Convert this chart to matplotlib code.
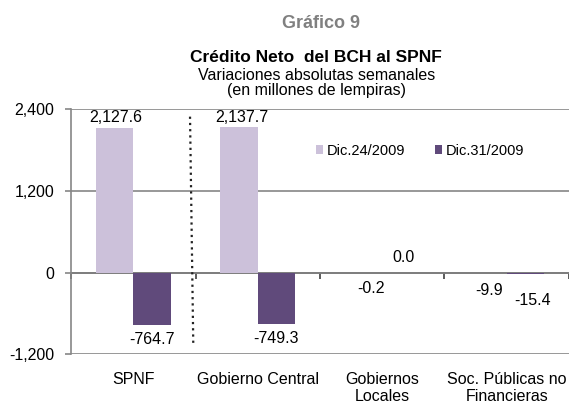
import matplotlib
matplotlib.use("Agg")
import matplotlib.pyplot as plt
import numpy as np

plt.rcParams['font.family'] = ['Liberation Sans', 'DejaVu Sans']

categories = ["SPNF", "Gobierno Central", "Gobiernos\nLocales", "Soc. Públicas no\nFinancieras"]
series_names = ["Dic.24/2009", "Dic.31/2009"]
dic24 = [2127.6, 2137.7, -0.2, -9.9]
dic31 = [-764.7, -749.3, 0.0, -15.4]
label24 = ["2,127.6", "2,137.7", "-0.2", "-9.9"]
label31 = ["-764.7", "-749.3", "0.0", "-15.4"]
yticks = [-1200, 0, 1200, 2400]
ytick_labels = ["-1,200", "0", "1,200", "2,400"]

# label offsets in pixels (dx, dy) relative to bar end -- styling only
off24 = [(1.5, 10), (3, 9.5), (7, -15.5), (1, -17)]
off31 = [(0, -14.5), (0, -14.5), (3, 15), (7, -26.5)]

light = "#CCC1DA"
dark = "#604A7B"
W, H = 569, 404
fig = plt.figure(figsize=(W / 100, H / 100), dpi=100)
ax = fig.add_axes([71 / W, 1 - 354.3 / H, 1 - 71 / W, (354.3 - 109.3) / H])

x = np.arange(len(categories))
bw = 0.30
b1 = ax.bar(x - bw / 2, dic24, bw, color=light, zorder=3, label=series_names[0])
b2 = ax.bar(x + bw / 2, dic31, bw, color=dark, zorder=3, label=series_names[1])

ax.set_xlim(-0.5, len(categories) - 0.5)
ax.set_ylim(-1200, 2400)
ax.set_yticks(yticks)
ax.set_yticklabels(ytick_labels)
ax.yaxis.grid(True, color="#868686", lw=1.2, zorder=0)
ax.set_axisbelow(True)
ax.tick_params(axis='y', direction='out', length=4, width=1.2, color="#868686",
               labelsize=11.5, pad=8)

for s in ['top', 'right', 'bottom']:
    ax.spines[s].set_visible(False)
ax.spines['left'].set_color("#868686")
ax.spines['left'].set_linewidth(1.2)

# category labels at the bottom
ax.set_xticks([])
ax.set_xticks(x, minor=True)
ax.set_xticklabels(categories, minor=True, fontsize=11.5, linespacing=1.2)
ax.tick_params(axis='x', which='minor', length=0, pad=12.5)

# zero line with boundary ticks
frac0 = (0 - (-1200)) / (2400 - (-1200))
sec = ax.secondary_xaxis(frac0)
sec.set_xticks(np.arange(len(categories) + 1) - 0.5)
sec.set_xticklabels([])
sec.tick_params(direction='out', length=4, width=1.2, color="#404040")
sec.spines['bottom'].set_color("#404040")
sec.spines['bottom'].set_linewidth(1.2)

# dotted separator
ax.plot([0.456, 0.482], [2292, -1037], ls=(0, (1, 1.8)), color="#222222", lw=1.6, zorder=4)

px2pt = 0.72
for i in range(len(categories)):
    dx, dy = off24[i]
    ax.annotate(label24[i], (x[i] - bw / 2, dic24[i]), xytext=(dx * px2pt, dy * px2pt),
                textcoords='offset points', ha='center', va='center', fontsize=11.5)
    dx, dy = off31[i]
    ax.annotate(label31[i], (x[i] + bw / 2, dic31[i]), xytext=(dx * px2pt, dy * px2pt),
                textcoords='offset points', ha='center', va='center', fontsize=11.5)

fig.legend(handles=[b1, b2], labels=series_names, loc='center left',
           bbox_to_anchor=(315.7 / W, 1 - 150.7 / H), frameon=False, ncol=2,
           fontsize=10.5, handlelength=0.52, handleheight=0.52, handletextpad=0.25,
           columnspacing=2.0, borderpad=0, borderaxespad=0)

cx = 320 / W
fig.text(cx + 1 / W, 1 - 28 / H, "Gráfico 9", ha='center', va='baseline', fontsize=13,
         fontweight='bold', color="#808080")
fig.text(cx - 4 / W, 1 - 62 / H, "Crédito Neto  del BCH al SPNF", ha='center', va='baseline',
         fontsize=12.5, fontweight='bold')
fig.text(cx - 3 / W, 1 - 80 / H, "Variaciones absolutas semanales", ha='center', va='baseline',
         fontsize=11.5)
fig.text(cx - 4 / W, 1 - 95 / H, "(en millones de lempiras)", ha='center', va='baseline',
         fontsize=11.5)

fig.savefig("out.png", dpi=100)
